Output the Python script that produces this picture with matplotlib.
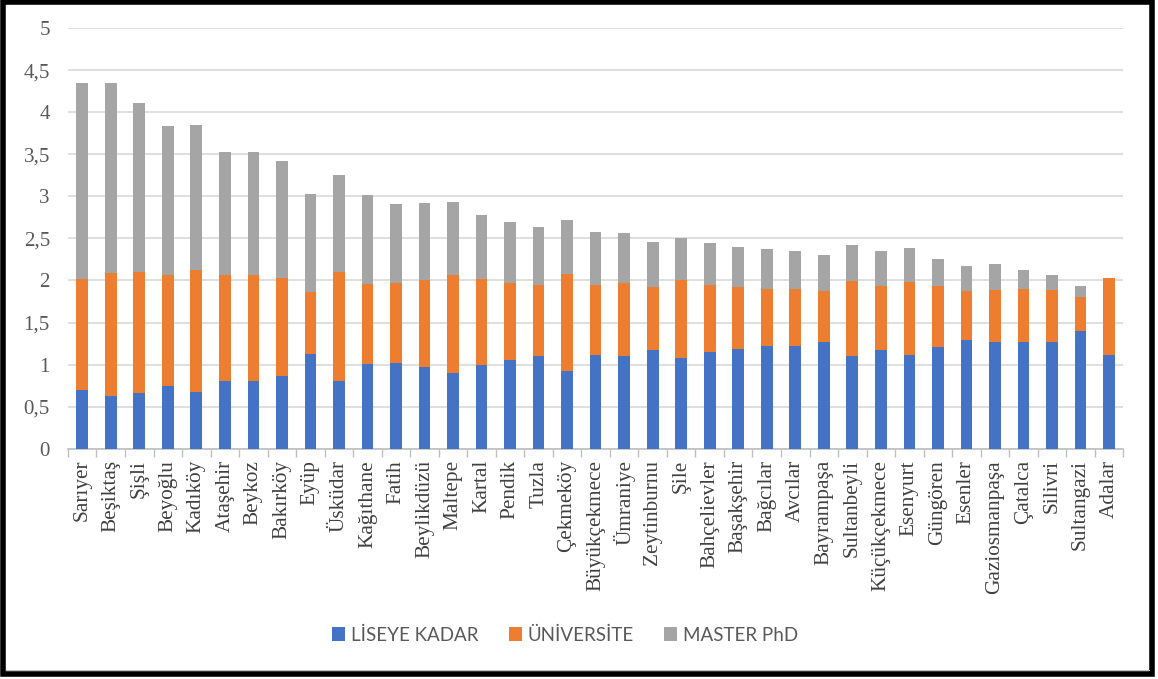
import matplotlib
matplotlib.use("Agg")
import matplotlib.pyplot as plt
from matplotlib.patches import Rectangle
from matplotlib.ticker import FixedLocator
import numpy as np

# serif everywhere by default (tick labels), legend gets its own sans font
plt.rcParams["font.family"] = ["Liberation Serif", "DejaVu Serif"]
plt.rcParams["ytick.labelsize"] = 15
plt.rcParams["ytick.labelcolor"] = "#595959"

districts = ["Sarıyer", "Beşiktaş", "Şişli", "Beyoğlu", "Kadıköy", "Ataşehir", "Beykoz",
             "Bakırköy", "Eyüp", "Üsküdar", "Kağıthane", "Fatih", "Beylikdüzü", "Maltepe",
             "Kartal", "Pendik", "Tuzla", "Çekmeköy", "Büyükçekmece", "Ümraniye",
             "Zeytinburnu", "Şile", "Bahçelievler", "Başakşehir", "Bağcılar", "Avcılar",
             "Bayrampaşa", "Sultanbeyli", "Küçükçekmece", "Esenyurt", "Güngören", "Esenler",
             "Gaziosmanpaşa", "Çatalca", "Silivri", "Sultangazi", "Adalar"]

# cumulative tops
lise_top = [0.70, 0.63, 0.66, 0.75, 0.68, 0.80, 0.80, 0.86, 1.13, 0.81,
            1.01, 1.02, 0.97, 0.90, 0.99, 1.06, 1.10, 0.93, 1.11, 1.10,
            1.17, 1.08, 1.15, 1.19, 1.22, 1.22, 1.27, 1.10, 1.17, 1.12,
            1.21, 1.29, 1.27, 1.27, 1.27, 1.40, 1.12]
uni_top = [2.02, 2.09, 2.10, 2.06, 2.12, 2.06, 2.07, 2.03, 1.86, 2.10,
           1.96, 1.97, 2.01, 2.07, 2.02, 1.97, 1.95, 2.08, 1.95, 1.97,
           1.92, 2.00, 1.95, 1.92, 1.90, 1.90, 1.87, 1.99, 1.94, 1.98,
           1.93, 1.88, 1.89, 1.90, 1.89, 1.80, 2.03]
total_top = [4.35, 4.35, 4.11, 3.84, 3.85, 3.53, 3.53, 3.42, 3.03, 3.25,
             3.02, 2.91, 2.92, 2.93, 2.78, 2.69, 2.63, 2.72, 2.58, 2.57,
             2.46, 2.50, 2.45, 2.40, 2.37, 2.35, 2.30, 2.42, 2.35, 2.38,
             2.26, 2.17, 2.19, 2.13, 2.06, 1.94, 2.03]
yticks = [0, 0.5, 1, 1.5, 2, 2.5, 3, 3.5, 4, 4.5, 5]

lise = np.array(lise_top)
uni = np.array(uni_top) - lise
master = np.array(total_top) - np.array(uni_top)

fig = plt.figure(figsize=(11.58, 6.79), dpi=100)
ax = fig.add_axes([0.0587, 0.339, 0.9113, 0.6198])

x = np.arange(len(districts))
w = 0.41
ax.bar(x, lise, w, color="#4472C4", label="LİSEYE KADAR", zorder=3)
ax.bar(x, uni, w, bottom=lise, color="#ED7D31", label="ÜNİVERSİTE", zorder=3)
ax.bar(x, master, w, bottom=lise + uni, color="#A5A5A5", label="MASTER PhD", zorder=3)

ax.set_ylim(0, 5)
ax.set_xlim(-0.5, len(districts) - 0.5)
ax.tick_params(axis="y", length=0, pad=13)
ax.set_yticks(yticks, labels=[("%g" % v).replace(".", ",") for v in yticks],
              fontsize=15, color="#595959")
ax.grid(axis="y", color="#d9d9d9", lw=1.2, zorder=0)

ax.tick_params(axis="x", which="major", length=0, pad=8)
ax.tick_params(axis="x", which="minor", length=6, color="#bfbfbf", width=1)
ax.set_xticks(x)
ax.set_xticklabels(districts, rotation=90, fontsize=15.3, color="#404040")
ax.xaxis.set_minor_locator(FixedLocator(np.arange(-0.5, len(districts), 1)))

for s in ["top", "right", "left"]:
    ax.spines[s].set_visible(False)
ax.spines["bottom"].set_color("#bfbfbf")
ax.spines["bottom"].set_linewidth(1.2)

fig.legend(loc="center", bbox_to_anchor=(565 / 1158, 1 - 635 / 679), ncol=3, frameon=False,
           prop={"family": "Lato", "size": 13.5}, handlelength=0.7, handleheight=0.7,
           handletextpad=0.32, columnspacing=1.6, labelcolor="#595959")

# frame around the picture
fig.patches.append(Rectangle((3 / 1158, 5 / 679), 1149 / 1158, 672 / 679, transform=fig.transFigure,
                             fill=False, ec="black", lw=4))
fig.patches.append(Rectangle((6 / 1158, 8 / 679), 1144 / 1158, 1 / 679, transform=fig.transFigure,
                             fill=True, fc="#bfbfbf", ec="none"))

fig.savefig("out.png", dpi=100)
